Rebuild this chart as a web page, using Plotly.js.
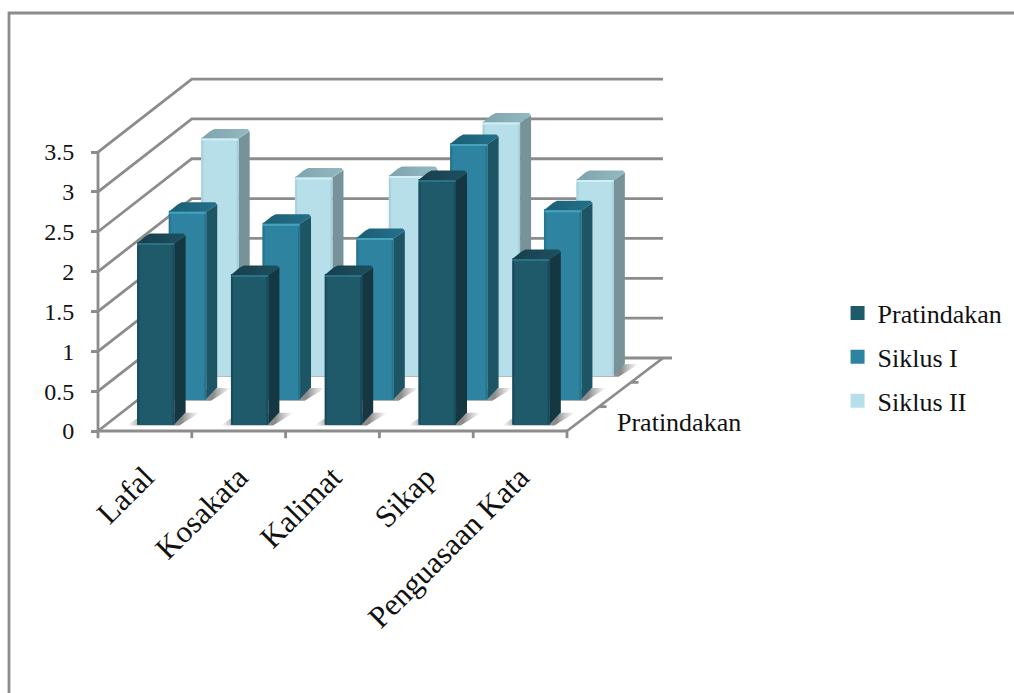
<!DOCTYPE html>
<html>
<head>
<meta charset="utf-8">
<script src="https://cdn.plot.ly/plotly-3.0.1.min.js"></script>
<style>html,body{margin:0;padding:0;background:#fff}</style>
</head>
<body>
<div id="chart" style="width:1014px;height:693px"></div>
<script>
// ---- data ----
const categories = ["Lafal", "Kosakata", "Kalimat", "Sikap", "Penguasaan Kata"];
const pratindakan = [2.27, 1.87, 1.87, 3.06, 2.07];
const siklusI = [2.35, 2.2, 2.02, 3.2, 2.37];
const siklusII = [2.97, 2.48, 2.5, 3.17, 2.45];
const yTicks = [0, 0.5, 1, 1.5, 2, 2.5, 3, 3.5];
const depthLabel = "Pratindakan";

// ---- style and layout constants ----
const FONT = "Liberation Serif";
const GREY = "#8c8c8c";
const LINE_W = 2.8;
const W = 0.40, DX = 0.117, DY = 0.12;       // bar width and bar depth in axis units
const WALL_DX = 1.0, WALL_DY = 0.916, WALL_END = 5.523;
const pxPerX = 93.8, pxPerY = 79.7;
const zeroX = 98, zeroY = 431;               // where the value axis meets the floor
const plotLeft = 86, plotBottom = 450, plotRight = 700, plotTop = 50;
const xRange = [-0.5 - (zeroX - plotLeft) / pxPerX, -0.5 + (plotRight - zeroX) / pxPerX];
const yRange = [(zeroY - plotBottom) / pxPerY, (zeroY - plotTop) / pxPerY];

const seriesStyles = [
  {name: "Siklus II",  vals: siklusII,    off: 0.80,  base: 0.70,  front: "#b7dfe9", side: "#78929a", topA: "#7fa3ad", topB: "#93b9c2", hi: "#cfeef5", edge: "#a7d1dc", ax: 2},
  {name: "Siklus I",   vals: siklusI,     off: 0.454, base: 0.40,  front: "#2e84a0", side: "#1e5564", topA: "#1b5f73", topB: "#23708a", hi: "#45a3c0", edge: "#27748e", ax: 3},
  {name: "Pratindakan",vals: pratindakan, off: 0.117, base: 0.088, front: "#1f5a6b", side: "#143741", topA: "#173f4c", topB: "#1e505f", hi: "#2d7186", edge: "#1a4b5a", ax: 4}
];

// ---- walls, floor and axis lines, drawn on the bottom subplot ----
const wx = [], wy = [];
function seg(points) { points.forEach(p => { wx.push(p[0]); wy.push(p[1]); }); wx.push(null); wy.push(null); }
yTicks.forEach((t, k) => {
  seg([[-0.5, t], [-0.5 + WALL_DX, t + WALL_DY],
       [k === 0 ? WALL_END + 0.096 : WALL_END, t + WALL_DY]]);
});
seg([[-0.5, 0], [-0.5, yTicks[yTicks.length - 1]]]);
seg([[-0.5, 0], [categories.length - 0.5, 0]]);
seg([[categories.length - 0.5, 0], [WALL_END, WALL_DY]]);
categories.concat([""]).forEach((c, i) => seg([[i - 0.5, 0], [i - 0.5, -0.09]]));
[1/3, 2/3].forEach(f => {
  const x = categories.length - 0.5 + f * (WALL_END - categories.length + 0.5), y = f * WALL_DY;
  seg([[x, y], [x + 0.08, y]]);
});

const traces = [{
  type: "scatter", mode: "lines", x: wx, y: wy, xaxis: "x", yaxis: "y",
  line: {color: GREY, width: LINE_W}, showlegend: false, hoverinfo: "skip"
}];

// soft floor shadows, also below every bar
seriesStyles.forEach(s => {
  s.vals.forEach((v, i) => {
    const c = i + s.off, l = c - W / 2, r = c + W / 2;
    traces.push({
      type: "scatter", mode: "lines", xaxis: "x", yaxis: "y", showlegend: false, hoverinfo: "skip",
      x: [l - 0.1, l, r + DX + 0.02, r + DX + 0.15, r + 0.05, l - 0.1],
      y: [s.base - 0.005, s.base + 0.07, s.base + DY + 0.02, s.base + DY + 0.02, s.base - 0.02, s.base - 0.02],
      fill: "toself", line: {width: 0, color: "rgba(0,0,0,0)"},
      fillgradient: {type: "horizontal", colorscale: [[0, "rgba(120,120,120,0)"], [0.18, "rgba(110,110,110,0.65)"], [0.75, "rgba(90,90,90,0.7)"], [1, "rgba(140,140,140,0)"]]}
    });
  });
});

// bars: one overlaid subplot per series so that nearer bars cover farther ones
seriesStyles.forEach(s => {
  const xa = "x" + s.ax, ya = "y" + s.ax;
  const fillFace = (xs, ys, extra) => Object.assign({
    type: "scatter", mode: "lines", x: xs, y: ys, xaxis: xa, yaxis: ya, fill: "toself",
    line: {width: 0, color: "rgba(0,0,0,0)"}, showlegend: false, hoverinfo: "skip"
  }, extra);

  // the same-coloured 2px outline also makes the legend swatch as large as the reference's
  traces.push({
    type: "bar", name: s.name, legendgroup: s.name, xaxis: xa, yaxis: ya,
    x: s.vals.map((v, i) => i + s.off), y: s.vals, base: s.vals.map(() => s.base),
    width: W - 2 / pxPerX, marker: {color: s.front, line: {width: 2, color: s.front}},
    hovertext: categories, hovertemplate: "%{hovertext}<br>%{y}<extra>" + s.name + "</extra>"
  });

  s.vals.forEach((v, i) => {
    const r = i + s.off + W / 2, l = r - W, t = s.base + v, b = s.base;
    const cx = 0.022, cy = 0.028;
    // right side face, chamfered at the outer corners
    traces.push(fillFace(
      [r, r + DX, r + DX, r + DX - cx * 2, r, r],
      [t, t + DY - cy, b + DY + cy, b + DY - cy, b, t],
      {fillcolor: s.side}));
    // top face
    traces.push(fillFace(
      [l, l + DX - cx, l + DX + cx, r + DX - cx, r + DX, r, l],
      [t, t + DY - cy, t + DY, t + DY, t + DY - cy, t, t],
      {fillgradient: {type: "horizontal", colorscale: [[0, s.topA], [1, s.topB]]}}));
    // highlight along the top of the front face and darker bevel on its edges
    traces.push({
      type: "scatter", mode: "lines", xaxis: xa, yaxis: ya, showlegend: false, hoverinfo: "skip",
      x: [l + 0.01, r - 0.01], y: [t - 0.012, t - 0.012], line: {color: s.hi, width: 2}
    });
    traces.push({
      type: "scatter", mode: "lines", xaxis: xa, yaxis: ya, showlegend: false, hoverinfo: "skip",
      x: [l + 0.012, l + 0.012, null, r - 0.012, r - 0.012], y: [b, t - 0.03, null, b, t - 0.03],
      line: {color: s.edge, width: 2}
    });
  });
});

// legend reads front-to-back
const bars = traces.filter(t => t.type === "bar");
const ordered = traces.filter(t => t.type !== "bar").concat(bars.slice().reverse());

const hiddenX = n => ({matches: "x", overlaying: "x", anchor: "y" + n, range: xRange, visible: false, fixedrange: true});
const hiddenY = n => ({matches: "y", overlaying: "y", anchor: "x" + n, range: yRange, visible: false, fixedrange: true});

const frameX = p => (p - plotLeft) / (plotRight - plotLeft);
const frameY = p => (plotBottom - p) / (plotBottom - plotTop);

const layout = {
  width: 1014, height: 693, paper_bgcolor: "#fff", plot_bgcolor: "rgba(0,0,0,0)",
  margin: {l: plotLeft, r: 1014 - plotRight, t: plotTop, b: 693 - plotBottom, pad: 0},
  barmode: "overlay", hovermode: "closest",
  font: {family: FONT, size: 25, color: "#111"},
  showlegend: true,
  legend: {xref: "container", yref: "container", x: 0.826, y: 0.582, xanchor: "left", yanchor: "top",
           font: {family: FONT, size: 26, color: "#111"}, tracegroupgap: 7, bgcolor: "rgba(0,0,0,0)", itemclick: false, itemdoubleclick: false},
  xaxis: {range: xRange, tickmode: "array", tickvals: categories.map((c, i) => i), ticktext: categories,
          tickangle: -45, ticks: "", showgrid: false, zeroline: false, showline: false, ticklabelstandoff: 2,
          tickfont: {family: FONT, size: 31, color: "#111"}, fixedrange: true, automargin: false},
  yaxis: {range: yRange, tickmode: "array", tickvals: yTicks, ticktext: yTicks.map(String),
          anchor: "free", position: frameX(zeroX),
          ticks: "outside", ticklen: 7, tickwidth: LINE_W, tickcolor: GREY, showgrid: false, zeroline: false, showline: false,
          ticklabelstandoff: 12, tickfont: {family: FONT, size: 24, color: "#111"}, fixedrange: true, automargin: false},
  xaxis2: hiddenX(2), yaxis2: hiddenY(2),
  xaxis3: hiddenX(3), yaxis3: hiddenY(3),
  xaxis4: hiddenX(4), yaxis4: hiddenY(4),
  annotations: [{
    text: depthLabel, xref: "x", yref: "y", x: categories.length - 0.5 + 0.51, y: 0.11,
    xanchor: "left", yanchor: "middle", showarrow: false, font: {family: FONT, size: 26, color: "#111"}
  }],
  shapes: [{
    type: "path", xref: "paper", yref: "paper", layer: "below",
    path: "M " + frameX(9) + " " + frameY(693) + " L " + frameX(9) + " " + frameY(13) + " L " + frameX(1014) + " " + frameY(13),
    line: {color: GREY, width: LINE_W}
  }]
};

Plotly.newPlot("chart", ordered, layout, {displayModeBar: false, responsive: false});
</script>
</body>
</html>
